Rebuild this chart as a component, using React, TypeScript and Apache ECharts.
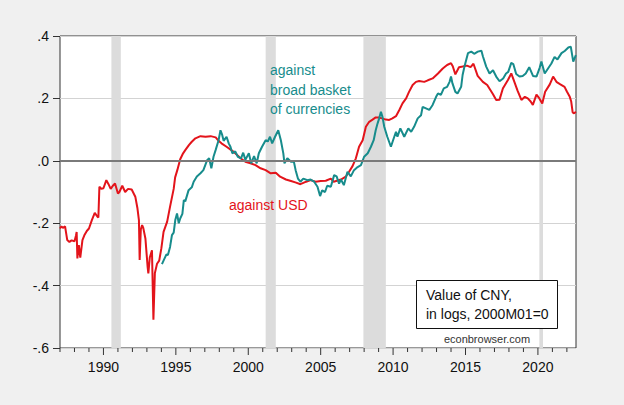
import React, { useEffect, useRef } from "react";
import * as echarts from "echarts";

// Value of CNY, in logs, 2000M01=0 (decimal years)
const usdYears = [
  1987.0, 1987.1, 1987.2, 1987.35, 1987.5, 1987.65, 1987.8, 1988.0, 1988.1, 1988.15, 1988.2, 1988.3, 1988.4, 1988.55, 1988.7, 1988.85,
  1989.0, 1989.2, 1989.4, 1989.6, 1989.65, 1989.72, 1989.85, 1990.0, 1990.2, 1990.35, 1990.5, 1990.65, 1990.8, 1991.0, 1991.1, 1991.3,
  1991.5, 1991.7, 1991.95, 1992.2, 1992.35, 1992.45, 1992.5, 1992.58, 1992.67, 1992.75, 1992.9, 1993.05, 1993.1, 1993.2, 1993.35, 1993.45,
  1993.55, 1993.7, 1993.85, 1994.0, 1994.15, 1994.4, 1994.6, 1994.85, 1994.95, 1995.1, 1995.3, 1995.5, 1995.65, 1995.9, 1996.1, 1996.35,
  1996.7, 1997.05, 1997.4, 1997.75, 1997.95, 1998.15, 1998.5, 1998.9, 1999.1, 1999.47, 1999.8, 2000.15, 2000.5, 2000.85, 2001.2, 2001.55,
  2001.9, 2002.2, 2002.6, 2002.95, 2003.3, 2003.6, 2004.0, 2004.3, 2004.65, 2005.0, 2005.35, 2005.7, 2005.9, 2006.4, 2006.73, 2006.96,
  2007.2, 2007.43, 2007.65, 2007.9, 2008.12, 2008.35, 2008.58, 2008.8, 2009.0, 2009.25, 2009.5, 2009.73, 2009.95, 2010.2, 2010.43, 2010.65,
  2010.9, 2011.1, 2011.35, 2011.58, 2011.8, 2012.15, 2012.4, 2012.73, 2013.1, 2013.43, 2013.73, 2014.0, 2014.12, 2014.3, 2014.55, 2014.8,
  2015.1, 2015.35, 2015.55, 2015.84, 2016.2, 2016.5, 2016.9, 2017.12, 2017.35, 2017.58, 2017.93, 2018.16, 2018.35, 2018.6, 2018.86, 2019.1,
  2019.3, 2019.5, 2019.65, 2019.9, 2020.1, 2020.3, 2020.5, 2020.82, 2021.05, 2021.3, 2021.55, 2021.84, 2022.0, 2022.2, 2022.3, 2022.4,
  2022.5, 2022.62,
];
const usdValues = [
  -0.217, -0.21, -0.215, -0.21, -0.254, -0.26, -0.255, -0.258, -0.24, -0.228, -0.313, -0.27, -0.31, -0.254, -0.237, -0.225,
  -0.217, -0.19, -0.167, -0.18, -0.182, -0.083, -0.09, -0.088, -0.062, -0.075, -0.09, -0.08, -0.073, -0.105, -0.1, -0.08,
  -0.1, -0.09, -0.092, -0.115, -0.153, -0.19, -0.318, -0.22, -0.206, -0.215, -0.25, -0.34, -0.361, -0.31, -0.287, -0.509,
  -0.36, -0.33, -0.32, -0.28, -0.228, -0.195, -0.147, -0.09, -0.053, -0.03, 0.005, 0.024, 0.034, 0.05, 0.061, 0.072,
  0.079, 0.077, 0.079, 0.075, 0.064, 0.056, 0.045, 0.032, 0.024, 0.008, -0.003, -0.008, -0.014, -0.024, -0.03, -0.04,
  -0.038, -0.051, -0.06, -0.065, -0.07, -0.075, -0.067, -0.062, -0.067, -0.065, -0.064, -0.057, -0.067, -0.06, -0.051, -0.035,
  -0.017, 0.008, 0.045, 0.066, 0.109, 0.125, 0.132, 0.139, 0.139, 0.136, 0.132, 0.131, 0.136, 0.143, 0.163, 0.184,
  0.2, 0.221, 0.243, 0.253, 0.256, 0.253, 0.258, 0.264, 0.28, 0.296, 0.307, 0.313, 0.303, 0.277, 0.3, 0.302,
  0.305, 0.3, 0.311, 0.272, 0.253, 0.243, 0.213, 0.195, 0.196, 0.232, 0.259, 0.28, 0.256, 0.224, 0.195, 0.205,
  0.2, 0.19, 0.179, 0.212, 0.2, 0.184, 0.221, 0.245, 0.27, 0.252, 0.245, 0.237, 0.222, 0.205, 0.19, 0.155,
  0.152, 0.157,
];

const basketYears = [
  1994.04, 1994.15, 1994.27, 1994.35, 1994.45, 1994.6, 1994.73, 1994.85, 1994.96, 1995.08, 1995.2, 1995.3, 1995.45, 1995.55, 1995.65, 1995.88,
  1996.1, 1996.23, 1996.45, 1996.7, 1996.9, 1997.16, 1997.3, 1997.45, 1997.6, 1997.75, 1997.95, 1998.08, 1998.2, 1998.3, 1998.5, 1998.65,
  1998.77, 1998.9, 1999.1, 1999.28, 1999.5, 1999.65, 1999.8, 2000.04, 2000.2, 2000.4, 2000.58, 2000.73, 2000.95, 2001.2, 2001.35, 2001.5,
  2001.65, 2001.85, 2002.07, 2002.25, 2002.42, 2002.5, 2002.7, 2002.95, 2003.15, 2003.27, 2003.43, 2003.6, 2003.8, 2004.08, 2004.3, 2004.55,
  2004.78, 2004.96, 2005.1, 2005.3, 2005.45, 2005.7, 2005.93, 2006.1, 2006.27, 2006.4, 2006.6, 2006.85, 2007.08, 2007.3, 2007.55, 2007.78,
  2008.0, 2008.25, 2008.47, 2008.66, 2008.8, 2008.93, 2009.04, 2009.16, 2009.27, 2009.39, 2009.6, 2009.85, 2010.0, 2010.2, 2010.3, 2010.5,
  2010.77, 2011.05, 2011.25, 2011.45, 2011.7, 2011.93, 2012.04, 2012.27, 2012.5, 2012.73, 2012.97, 2013.1, 2013.3, 2013.5, 2013.73, 2013.9,
  2014.0, 2014.1, 2014.3, 2014.45, 2014.7, 2014.8, 2014.93, 2015.17, 2015.4, 2015.6, 2015.85, 2016.1, 2016.2, 2016.43, 2016.66, 2016.9,
  2017.12, 2017.35, 2017.6, 2017.8, 2017.95, 2018.16, 2018.3, 2018.5, 2018.73, 2018.95, 2019.16, 2019.4, 2019.66, 2019.9, 2020.12, 2020.24,
  2020.47, 2020.7, 2020.93, 2021.15, 2021.35, 2021.63, 2021.85, 2022.1, 2022.27, 2022.44, 2022.62,
];
const basketValues = [
  -0.331, -0.32, -0.308, -0.3, -0.302, -0.276, -0.238, -0.23, -0.19, -0.169, -0.2, -0.185, -0.17, -0.126, -0.13, -0.094,
  -0.085, -0.067, -0.05, -0.04, -0.03, 0.002, 0.008, -0.024, 0.013, 0.035, 0.066, 0.098, 0.083, 0.064, 0.077, 0.056,
  0.045, 0.024, 0.03, 0.013, 0.008, 0.026, 0.003, 0.024, -0.008, 0.015, -0.008, 0.024, 0.045, 0.066, 0.062, 0.077,
  0.056, 0.077, 0.098, 0.066, 0.024, -0.008, 0.008, -0.003, -0.003, -0.03, -0.057, -0.067, -0.057, -0.062, -0.06, -0.067,
  -0.083, -0.113, -0.095, -0.1, -0.08, -0.083, -0.046, -0.05, -0.073, -0.06, -0.078, -0.035, -0.05, -0.03, -0.02, -0.014,
  0.013, 0.024, 0.045, 0.066, 0.098, 0.12, 0.136, 0.157, 0.14, 0.109, 0.077, 0.045, 0.066, 0.093, 0.077, 0.104,
  0.077, 0.104, 0.093, 0.109, 0.136, 0.146, 0.173, 0.168, 0.163, 0.179, 0.205, 0.216, 0.211, 0.232, 0.237, 0.253,
  0.27, 0.248, 0.221, 0.216, 0.237, 0.275, 0.302, 0.345, 0.35, 0.343, 0.35, 0.353, 0.335, 0.302, 0.28, 0.29,
  0.27, 0.255, 0.264, 0.28, 0.285, 0.314, 0.31, 0.278, 0.27, 0.272, 0.28, 0.3, 0.272, 0.27, 0.298, 0.318,
  0.28, 0.296, 0.312, 0.333, 0.325, 0.345, 0.352, 0.363, 0.366, 0.318, 0.339,
];

// US recessions (start, end) in decimal years
const recessionStarts = [1990.55, 2001.2, 2007.95, 2020.1];
const recessionEnds = [1991.2, 2001.9, 2009.5, 2020.35];

const yearTicks = Array.from({ length: 36 }, (_, i) => 1987 + i);

const FONT = "'Liberation Sans', Arial, sans-serif";
const RED = "#e3141b";
const TEAL = "#178c8c";
const Y_MIN = -0.6;

export default function App() {
  const ref = useRef<HTMLDivElement>(null);
  useEffect(() => {
    if (!ref.current) return;
    const chart = echarts.init(ref.current, undefined, { renderer: "svg" });
    const usd = usdYears.map((y, i) => [y, usdValues[i]]);
    const basket = basketYears.map((y, i) => [y, basketValues[i]]);
    const xMin = 1987;
    const xMax = 2022.63;
    chart.setOption({
      animation: false,
      backgroundColor: "#f0f0f0",
      textStyle: { fontFamily: FONT },
      grid: {
        left: 60,
        right: 48,
        top: 36,
        bottom: 57,
        show: true,
        backgroundColor: "#ffffff",
        borderColor: "#333333",
        borderWidth: 1,
      },
      xAxis: {
        type: "value",
        min: xMin,
        max: xMax,
        interval: 1,
        axisLine: { show: false },
        axisTick: { show: false },
        axisLabel: {
          margin: 12,
          color: "#111",
          fontSize: 14,
          fontFamily: FONT,
          showMinLabel: false,
          showMaxLabel: false,
          formatter: (v: number) => {
            const r = Math.round(v);
            return Math.abs(v - r) < 1e-6 && r % 5 === 0 ? String(r) : "";
          },
        },
        splitLine: { show: false },
      },
      yAxis: {
        type: "value",
        min: -0.6,
        max: 0.4,
        interval: 0.2,
        axisLine: { show: false },
        axisTick: { show: true, length: 7, lineStyle: { color: "#333" } },
        axisLabel: {
          margin: 11,
          color: "#111",
          fontSize: 14,
          fontFamily: FONT,
          formatter: (v: number) => {
            const r = Math.round(v * 10) / 10;
            if (r === 0) return ".0";
            return (r < 0 ? "-" : "") + Math.abs(r).toFixed(1).replace(/^0/, "");
          },
        },
        splitLine: { show: true, lineStyle: { color: "#d3d3d3", width: 1 } },
      },
      series: [
        {
          type: "line",
          z: 1,
          data: [[xMin, 0]],
          showSymbol: false,
          lineStyle: { opacity: 0 },
          silent: true,
          markArea: {
            silent: true,
            itemStyle: { color: "#dcdcdc" },
            data: recessionStarts.map((s, i) => [{ xAxis: s }, { xAxis: recessionEnds[i] }]),
          },
        },
        {
          type: "line",
          z: 2,
          data: [[xMin, 0]],
          showSymbol: false,
          lineStyle: { opacity: 0 },
          silent: true,
          markLine: {
            silent: true,
            symbol: ["none", "none"],
            label: { show: false },
            lineStyle: { color: "#7a7a7a", width: 2, type: "solid" },
            data: [{ yAxis: 0 }],
          },
        },
        {
          name: "against USD",
          type: "line",
          z: 3,
          data: usd,
          showSymbol: false,
          lineStyle: { color: RED, width: 2 },
          itemStyle: { color: RED },
        },
        {
          name: "against broad basket of currencies",
          type: "line",
          z: 4,
          data: basket,
          showSymbol: false,
          lineStyle: { color: TEAL, width: 2 },
          itemStyle: { color: TEAL },
        },
        {
          // year tick marks below the x axis (long ones every 5 years)
          type: "custom",
          z: 6,
          silent: true,
          clip: false,
          data: yearTicks.map((y) => [y, Y_MIN]),
          renderItem: (params: any, api: any) => {
            const yr = api.value(0);
            const p = api.coord([yr, api.value(1)]);
            const len = yr % 5 === 0 ? 7 : 4;
            return {
              type: "line",
              shape: { x1: p[0], y1: p[1], x2: p[0], y2: p[1] + len },
              style: { stroke: "#333", lineWidth: 1 },
            };
          },
        },
      ],
      graphic: [
        {
          type: "text",
          x: 270,
          y: 70,
          z: 10,
          style: { text: "against", fill: TEAL, font: `14px ${FONT}`, verticalAlign: "middle", align: "left" },
        },
        {
          type: "text",
          x: 270,
          y: 90,
          z: 10,
          style: { text: "broad basket", fill: TEAL, font: `14px ${FONT}`, verticalAlign: "middle", align: "left" },
        },
        {
          type: "text",
          x: 270,
          y: 109,
          z: 10,
          style: { text: "of currencies", fill: TEAL, font: `14px ${FONT}`, verticalAlign: "middle", align: "left" },
        },
        {
          type: "text",
          x: 229,
          y: 205,
          z: 10,
          style: { text: "against USD", fill: RED, font: `14px ${FONT}`, verticalAlign: "middle", align: "left" },
        },
        {
          type: "rect",
          z: 10,
          shape: { x: 416.5, y: 280.5, width: 141, height: 48 },
          style: { fill: "#ffffff", stroke: "#111111", lineWidth: 1 },
        },
        {
          type: "text",
          x: 426,
          y: 295,
          z: 11,
          style: { text: "Value of CNY,", fill: "#111", font: `14px ${FONT}`, verticalAlign: "middle", align: "left" },
        },
        {
          type: "text",
          x: 426,
          y: 314,
          z: 11,
          style: { text: "in logs, 2000M01=0", fill: "#111", font: `14px ${FONT}`, verticalAlign: "middle", align: "left" },
        },
        {
          type: "text",
          x: 487,
          y: 339,
          z: 11,
          style: { text: "econbrowser.com", fill: "#333", font: `11px ${FONT}`, verticalAlign: "middle", align: "center" },
        },
      ],
    });
    return () => chart.dispose();
  }, []);
  return (
    <div
      ref={ref}
      style={{ position: "fixed", left: 0, top: 0, width: 624, height: 405 }}
    />
  );
}
